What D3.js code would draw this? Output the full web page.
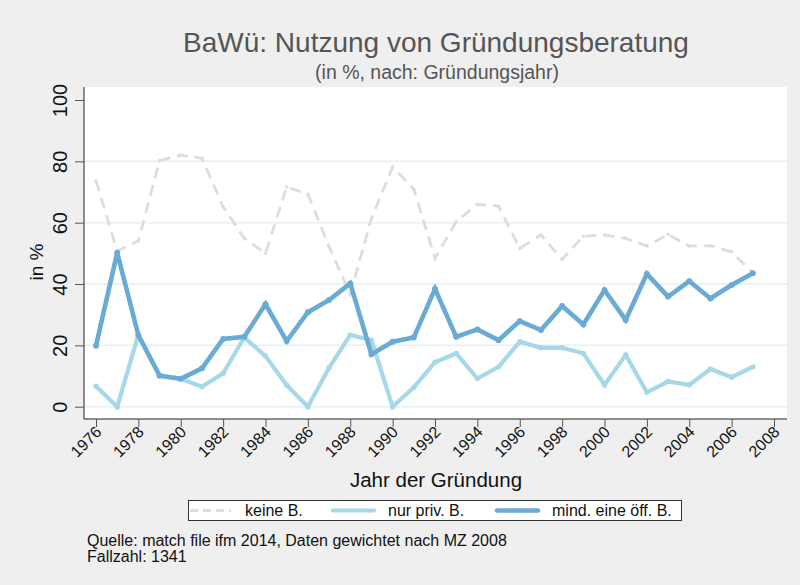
<!DOCTYPE html>
<html>
<head>
<meta charset="utf-8">
<script src="https://cdn.jsdelivr.net/npm/d3@7"></script>
<style>
  body { margin: 0; background: #efefef; }
  svg { display: block; font-family: "Liberation Sans", Arial, sans-serif; }
</style>
</head>
<body>
<svg id="chart"></svg>
<script>
// Daten
var years = d3.range(1976, 2008);
var keineB = [73.7, 50.7, 54.1, 80.2, 82.0, 81.0, 65.2, 54.9, 50.0, 71.7, 69.3, 52.2, 36.7, 61.4, 78.2, 70.9,
              48.4, 60.3, 66.0, 65.4, 51.6, 56.0, 48.0, 55.6, 56.0, 54.9, 52.4, 56.2, 52.4, 52.5, 50.5, 43.7];
var nurPriv = [6.7, 0, 23.4, 10.2, 9.1, 6.5, 10.9, 22.6, 16.5, 7.0, 0, 12.7, 23.4, 21.7, 0, 6.3,
               14.5, 17.4, 9.2, 13.0, 21.2, 19.2, 19.2, 17.4, 7.1, 16.9, 4.7, 8.2, 7.1, 12.3, 9.6, 13.0];
var mindOeff = [19.9, 50.2, 23.3, 10.1, 9.1, 12.5, 22.1, 22.8, 33.4, 21.4, 30.8, 34.8, 40.2, 17.1, 21.2, 22.6,
                38.4, 22.8, 25.2, 21.7, 27.9, 25.0, 32.8, 26.8, 38.0, 28.3, 43.3, 35.9, 40.9, 35.3, 39.7, 43.5];
var yTicks = [0, 20, 40, 60, 80, 100];
var xTicks = d3.range(1976, 2009, 2);
var legendLabels = ["keine B.", "nur priv. B.", "mind. eine öff. B."];

var width = 800, height = 585;
var svg = d3.select("#chart").attr("width", width).attr("height", height);

svg.append("rect").attr("width", width).attr("height", height).attr("fill", "#efefef");

// Plotbereich
var plot = { left: 84, top: 87, right: 787, bottom: 419 };
svg.append("rect")
  .attr("x", plot.left).attr("y", plot.top)
  .attr("width", plot.right - plot.left).attr("height", plot.bottom - plot.top)
  .attr("fill", "#fff");

var x = d3.scaleLinear().domain([1976, 2008]).range([96, 774]);
var y = d3.scaleLinear().domain([0, 100]).range([406.7, 100]);

// Gitterlinien
svg.append("g").selectAll("line")
  .data(yTicks.filter(function(d) { return d < 100; }))
  .enter().append("line")
  .attr("x1", plot.left).attr("x2", plot.right)
  .attr("y1", function(d) { return y(d); }).attr("y2", function(d) { return y(d); })
  .attr("stroke", "#e6eff2").attr("stroke-width", 1.5);

// Achsen
var yAxis = svg.append("g").attr("transform", "translate(" + plot.left + ",0)")
  .call(d3.axisLeft(y).tickValues(yTicks).tickSize(9).tickPadding(0).tickFormat(d3.format("d")));
yAxis.select(".domain").attr("d", "M0," + plot.top + "V" + plot.bottom).attr("stroke", "#222");
yAxis.selectAll(".tick line").attr("stroke", "#555");
yAxis.selectAll(".tick text")
  .attr("x", 0).attr("dy", 0)
  .attr("transform", "translate(-17,0) rotate(-90)")
  .attr("text-anchor", "middle")
  .style("font-size", "20px").attr("fill", "#111");

var xAxis = svg.append("g").attr("transform", "translate(0," + plot.bottom + ")")
  .call(d3.axisBottom(x).tickValues(xTicks).tickSize(8).tickFormat(d3.format("d")));
xAxis.select(".domain").attr("d", "M" + plot.left + ",0H" + plot.right).attr("stroke", "#222");
xAxis.selectAll(".tick line").attr("stroke", "#555");
xAxis.selectAll(".tick text")
  .attr("x", 0).attr("y", 0).attr("dy", 0)
  .attr("transform", "translate(6,14) rotate(-45)")
  .attr("text-anchor", "end")
  .style("font-size", "16px").attr("fill", "#111");

// Achsentitel
svg.append("text").attr("transform", "translate(43,262) rotate(-90)")
  .attr("text-anchor", "middle").style("font-size", "19px").attr("fill", "#111").text("in %");
svg.append("text").attr("x", 436).attr("y", 487)
  .attr("text-anchor", "middle").style("font-size", "20.5px").attr("fill", "#111").text("Jahr der Gründung");

// Titel
svg.append("text").attr("x", 436).attr("y", 52)
  .attr("text-anchor", "middle").style("font-size", "28px").attr("fill", "#555")
  .text("BaWü: Nutzung von Gründungsberatung");
svg.append("text").attr("x", 437).attr("y", 79)
  .attr("text-anchor", "middle").style("font-size", "19.5px").attr("fill", "#555")
  .text("(in %, nach: Gründungsjahr)");

// Linien
var series = [
  { values: keineB, color: "#dddddd", width: 2.8, dash: "11,7", r: 1.7 },
  { values: nurPriv, color: "#a7d8ea", width: 4.2, dash: null, r: 2.7 },
  { values: mindOeff, color: "#6aabd3", width: 4.6, dash: null, r: 3 }
];
var line = d3.line()
  .x(function(d, i) { return x(years[i]); })
  .y(function(d) { return y(d); });

series.forEach(function(s) {
  svg.append("path")
    .datum(s.values)
    .attr("d", line)
    .attr("fill", "none")
    .attr("stroke", s.color)
    .attr("stroke-width", s.width)
    .attr("stroke-dasharray", s.dash);
  svg.append("g").selectAll("circle")
    .data(s.values)
    .enter().append("circle")
    .attr("cx", function(d, i) { return x(years[i]); })
    .attr("cy", function(d) { return y(d); })
    .attr("r", s.r)
    .attr("fill", s.color);
});

// Legende
var legend = svg.append("g");
legend.append("rect").attr("x", 188.5).attr("y", 500.5).attr("width", 493).attr("height", 20)
  .attr("fill", "#fff").attr("stroke", "#333");
var legX = [190, 333, 497];
legend.selectAll("line")
  .data(series)
  .enter().append("line")
  .attr("x1", function(d, i) { return legX[i]; })
  .attr("x2", function(d, i) { return legX[i] + 41; })
  .attr("y1", 510.5).attr("y2", 510.5)
  .attr("stroke", function(d) { return d.color; })
  .attr("stroke-width", function(d) { return d.width; })
  .attr("stroke-dasharray", function(d) { return d.dash ? "8,5" : null; })
  .attr("stroke-linecap", function(d) { return d.dash ? "butt" : "round"; });
legend.selectAll("text")
  .data(legendLabels)
  .enter().append("text")
  .attr("x", function(d, i) { return legX[i] + 55; })
  .attr("y", 516)
  .style("font-size", "16px").attr("fill", "#111")
  .text(function(d) { return d; });

// Anmerkungen
svg.append("text").attr("x", 87).attr("y", 546).style("font-size", "16px").attr("fill", "#111")
  .text("Quelle: match file ifm 2014, Daten gewichtet nach MZ 2008");
svg.append("text").attr("x", 87).attr("y", 562).style("font-size", "16px").attr("fill", "#111")
  .text("Fallzahl: 1341");
</script>
</body>
</html>
